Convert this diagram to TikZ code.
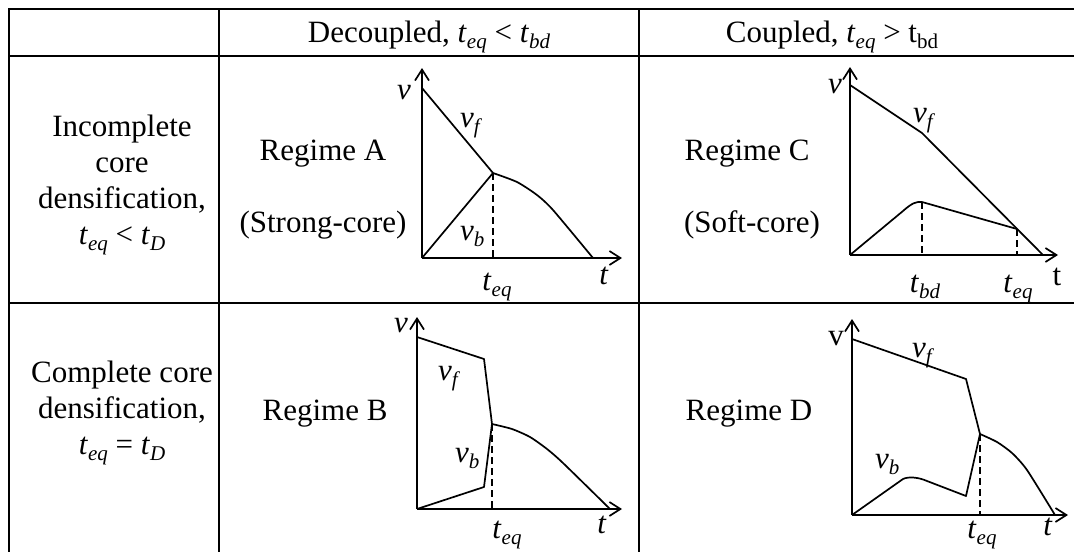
\documentclass[tikz,border=0pt]{standalone}
\usepackage{fontspec}
\setmainfont{Liberation Serif}
\usetikzlibrary{arrows.meta}
\newcommand{\sbx}[1]{\raisebox{-6pt}{\fontsize{21}{21}\selectfont #1}}
\newcommand{\iv}[2]{\textit{#1}\sbx{\textit{#2}}}
\begin{document}
\begin{tikzpicture}[x=1pt,y=-1pt,
  grid/.style={line width=2.2pt},
  curve/.style={line width=1.7pt, line join=round},
  axis/.style={line width=1.7pt, -{Straight Barb[length=11pt,width=14pt,line width=1.7pt]}},
  guide/.style={line width=1.7pt, dash pattern=on 7pt off 4pt},
  lbl/.style={inner sep=0pt, anchor=base, font=\fontsize{31}{36}\selectfont},
  lblw/.style={lbl, anchor=base west},
]
\useasboundingbox (0,0) rectangle (1074,552);
% table
\draw[grid] (1074,9) -- (9,9) -- (9,552);
\draw[grid] (9,56) -- (1074,56);
\draw[grid] (9,303) -- (1074,303);
\draw[grid] (219,9) -- (219,552);
\draw[grid] (639,9) -- (639,552);
% header
\node[lbl] (h2) at (429,42) {Decoupled, \iv{t}{eq} < \iv{t}{bd}};
\node[lbl] (h3) at (832,42) {Coupled, \iv{t}{eq} > t\sbx{bd}};
% left column
\node[lbl] (r1a) at (122,136) {Incomplete};
\node[lbl] (r1b) at (122,172) {core};
\node[lbl] (r1c) at (122,208) {densification,};
\node[lbl] (r1d) at (122,244) {\iv{t}{eq} < \iv{t}{D}};
\node[lbl] (r2a) at (122,382) {Complete core};
\node[lbl] (r2b) at (122,418) {densification,};
\node[lbl] (r2c) at (122,454) {\iv{t}{eq} = \iv{t}{D}};
% regime labels
\node[lbl] (ra) at (323,160) {Regime A};
\node[lbl] (rs) at (323,232) {(Strong-core)};
\node[lbl] (rc) at (747,160) {Regime C};
\node[lbl] (rsc) at (752,232) {(Soft-core)};
\node[lbl] (rb) at (325,420) {Regime B};
\node[lbl] (rd) at (749,420) {Regime D};
% ---------- Graph A
\coordinate (Ao) at (422,258);
\coordinate (Ay) at (422,68);
\coordinate (Ax) at (622,258);
\coordinate (Af) at (422,88);
\coordinate (Ae) at (493,173);
\draw[axis] (Ao) -- (Ay);
\draw[axis] (Ao) -- (Ax);
\draw[curve] (Af) -- (Ae);
\draw[curve] (Ao) -- (Ae);
\draw[curve] plot[smooth,tension=0.4] coordinates {(493,173) (517,182) (537,195) (553,210) (593,258)};
\draw[guide] (Ae) -- (Ae |- Ao);
\node[lbl] (Av) at (404,99) {\textit{v}};
\node[lblw] (Avf) at (460,127) {\iv{v}{f}};
\node[lblw] (Avb) at (460,240) {\iv{v}{b}};
\node[lbl] (Ateq) at (497,290) {\iv{t}{eq}};
\node[lbl] (At) at (604,284) {\textit{t}};
% ---------- Graph C
\coordinate (Co) at (850,255);
\coordinate (Cy) at (850,67);
\coordinate (Cx) at (1058,255);
\coordinate (Cf) at (850,85);
\coordinate (Ck) at (922,133);
\coordinate (Cend) at (1043,255);
\coordinate (Cp) at (922,202);
\coordinate (Cq) at (1017,229);
\draw[axis] (Co) -- (Cy);
\draw[axis] (Co) -- (Cx);
\draw[curve] (Cf) -- (Ck) -- (Cend);
\draw[curve] (Co) -- (903,211) .. controls (912,203) and (916,201.5) .. (Cp) -- (Cq);
\draw[guide] (Cp) -- (Cp |- Co);
\draw[guide] (Cq) -- (Cq |- Co);
\node[lbl] (Cv) at (835,93) {\textit{v}};
\node[lblw] (Cvf) at (913,122) {\iv{v}{f}};
\node[lbl] (Ctbd) at (925,292) {\iv{t}{bd}};
\node[lbl] (Cteq) at (1018,292) {\iv{t}{eq}};
\node[lbl] (Ct) at (1057,285) {t};
% ---------- Graph B
\coordinate (Bo) at (417,509);
\coordinate (By) at (417,317);
\coordinate (Bx) at (622,509);
\coordinate (Bf) at (417,337);
\coordinate (Bk) at (484,359);
\coordinate (Be) at (492,424);
\coordinate (Bl) at (484,487);
\draw[axis] (Bo) -- (By);
\draw[axis] (Bo) -- (Bx);
\draw[curve] (Bf) -- (Bk) -- (Be);
\draw[curve] (Bo) -- (Bl) -- (Be);
\draw[curve] plot[smooth,tension=0.4] coordinates {(492,424) (512,429) (530,437) (547,449) (563,463) (610,509)};
\draw[guide] (Be) -- (Be |- Bo);
\node[lbl] (Bv) at (401,332) {\textit{v}};
\node[lblw] (Bvf) at (438,380) {\iv{v}{f}};
\node[lblw] (Bvb) at (455,462) {\iv{v}{b}};
\node[lbl] (Bteq) at (507,538) {\iv{t}{eq}};
\node[lbl] (Bt) at (602,533) {\textit{t}};
% ---------- Graph D
\coordinate (Do) at (852,515);
\coordinate (Dy) at (852,319);
\coordinate (Dx) at (1068,515);
\coordinate (Df) at (852,339);
\coordinate (Dk) at (966,379);
\coordinate (De) at (980,434);
\coordinate (Dl) at (966,496);
\draw[axis] (Do) -- (Dy);
\draw[axis] (Do) -- (Dx);
\draw[curve] (Df) -- (Dk) -- (De);
\draw[curve] (Do) -- (903,479) .. controls (908,476.5) and (918,477) .. (927,481) -- (Dl) -- (De);
\draw[curve] plot[smooth,tension=0.4] coordinates {(980,434) (997,442) (1012,453) (1027,470) (1055,515)};
\draw[guide] (De) -- (De |- Do);
\node[lbl] (Dv) at (836,345) {v};
\node[lblw] (Dvf) at (912,357) {\iv{v}{f}};
\node[lblw] (Dvb) at (875,468) {\iv{v}{b}};
\node[lbl] (Dteq) at (982,538) {\iv{t}{eq}};
\node[lbl] (Dt) at (1048,535) {\textit{t}};
\end{tikzpicture}
\end{document}
